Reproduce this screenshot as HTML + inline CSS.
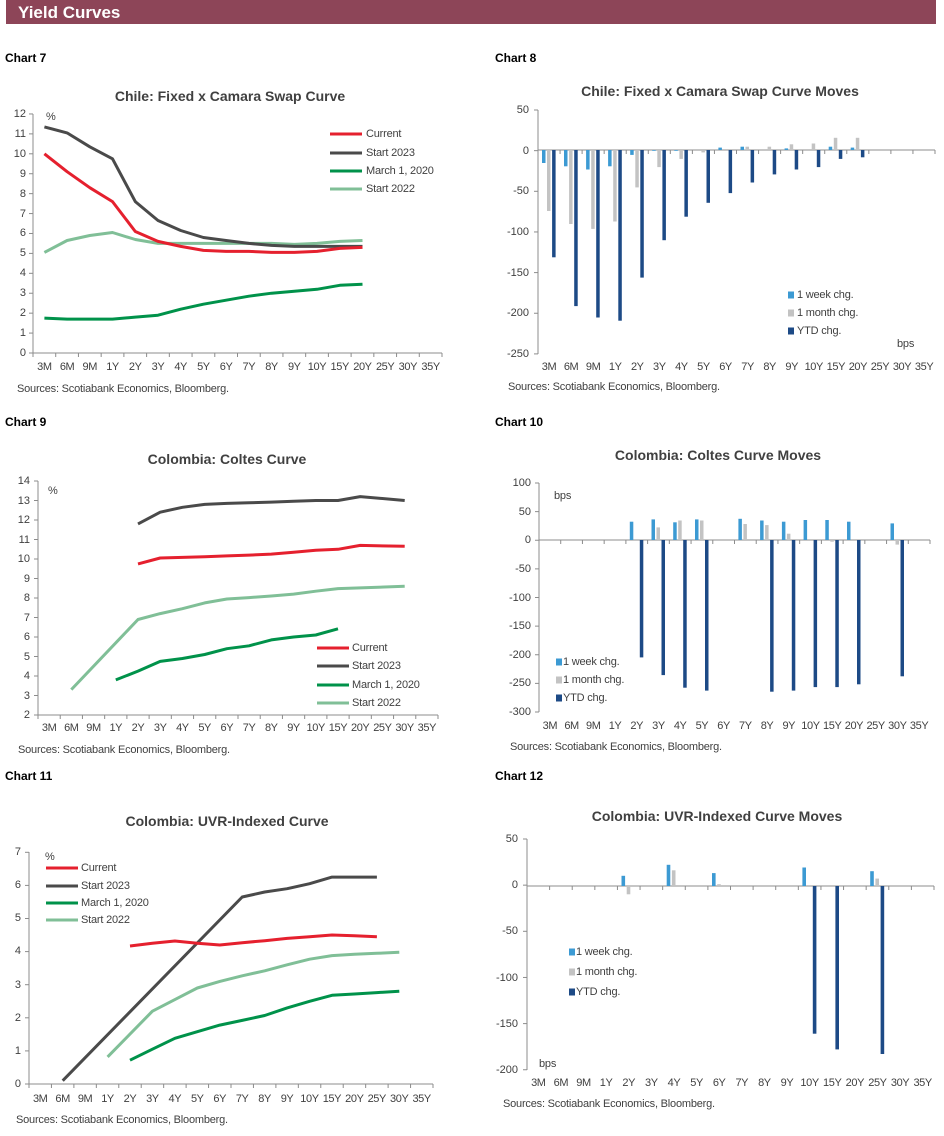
<!DOCTYPE html>
<html><head><meta charset="utf-8">
<style>
*{margin:0;padding:0;box-sizing:border-box}
body{width:944px;height:1136px;background:#fff;position:relative;overflow:hidden;font-family:"Liberation Sans",Arial,sans-serif;color:#404040}
.hdr{position:absolute;left:6px;top:0;width:930px;height:24px;background:#8d4558;color:#fff;font-weight:bold;font-size:17px;line-height:25px;padding-left:12px}
.cn{position:absolute;font-weight:bold;font-size:12px;color:#000}
.tt{position:absolute;font-weight:bold;font-size:14px;color:#404040;transform:translateX(-50%);white-space:nowrap;line-height:16px}
.src{position:absolute;font-size:11px;color:#404040;white-space:nowrap;line-height:13px;letter-spacing:-0.2px}
.xl{position:absolute;display:flex;height:14px;font-size:11px;line-height:14px;letter-spacing:-0.4px}
.xl span{flex:1;text-align:center;white-space:nowrap}
.yl{position:absolute;display:flex;flex-direction:column;justify-content:space-between;text-align:right;font-size:11px;line-height:14px}
.t{position:absolute;font-size:11px;line-height:14px;white-space:nowrap;letter-spacing:-0.2px}
svg{position:absolute;left:0;top:0}
</style></head><body>
<div class="hdr">Yield Curves</div>
<div class="cn" style="left:5px;top:51px">Chart 7</div>
<div class="cn" style="left:495px;top:51px">Chart 8</div>
<div class="cn" style="left:5px;top:415px">Chart 9</div>
<div class="cn" style="left:495px;top:415px">Chart 10</div>
<div class="cn" style="left:5px;top:769px">Chart 11</div>
<div class="cn" style="left:495px;top:769px">Chart 12</div>

<svg id="g" width="944" height="1136"></svg>

<div class="tt" style="left:230px;top:88px">Chile: Fixed x Camara Swap Curve</div>
<div class="tt" style="left:720px;top:83px">Chile: Fixed x Camara Swap Curve Moves</div>
<div class="tt" style="left:227px;top:451px">Colombia: Coltes Curve</div>
<div class="tt" style="left:718px;top:447px">Colombia: Coltes Curve Moves</div>
<div class="tt" style="left:227px;top:813px">Colombia: UVR-Indexed Curve</div>
<div class="tt" style="left:717px;top:808px">Colombia: UVR-Indexed Curve Moves</div>

<div class="src" style="left:17px;top:383px">Sources: Scotiabank Economics, Bloomberg.</div>
<div class="src" style="left:508px;top:381px">Sources: Scotiabank Economics, Bloomberg.</div>
<div class="src" style="left:18px;top:744px">Sources: Scotiabank Economics, Bloomberg.</div>
<div class="src" style="left:510px;top:741px">Sources: Scotiabank Economics, Bloomberg.</div>
<div class="src" style="left:16px;top:1114px">Sources: Scotiabank Economics, Bloomberg.</div>
<div class="src" style="left:503px;top:1098px">Sources: Scotiabank Economics, Bloomberg.</div>

<!-- y labels -->
<div class="yl" style="left:0;width:26px;top:107px;height:253px"><span>12</span><span>11</span><span>10</span><span>9</span><span>8</span><span>7</span><span>6</span><span>5</span><span>4</span><span>3</span><span>2</span><span>1</span><span>0</span></div>
<div class="yl" style="left:480px;width:49px;top:103px;height:258px"><span>50</span><span>0</span><span>-50</span><span>-100</span><span>-150</span><span>-200</span><span>-250</span></div>
<div class="yl" style="left:0;width:30px;top:474px;height:248px"><span>14</span><span>13</span><span>12</span><span>11</span><span>10</span><span>9</span><span>8</span><span>7</span><span>6</span><span>5</span><span>4</span><span>3</span><span>2</span></div>
<div class="yl" style="left:480px;width:51px;top:476px;height:243px"><span>100</span><span>50</span><span>0</span><span>-50</span><span>-100</span><span>-150</span><span>-200</span><span>-250</span><span>-300</span></div>
<div class="yl" style="left:0;width:21px;top:845px;height:246px"><span>7</span><span>6</span><span>5</span><span>4</span><span>3</span><span>2</span><span>1</span><span>0</span></div>
<div class="yl" style="left:470px;width:48px;top:832px;height:245px"><span>50</span><span>0</span><span>-50</span><span>-100</span><span>-150</span><span>-200</span></div>

<!-- x labels -->
<div class="xl" style="left:33px;width:409px;top:360px"><span>3M</span><span>6M</span><span>9M</span><span>1Y</span><span>2Y</span><span>3Y</span><span>4Y</span><span>5Y</span><span>6Y</span><span>7Y</span><span>8Y</span><span>9Y</span><span>10Y</span><span>15Y</span><span>20Y</span><span>25Y</span><span>30Y</span><span>35Y</span></div>
<div class="xl" style="left:538px;width:397px;top:360px"><span>3M</span><span>6M</span><span>9M</span><span>1Y</span><span>2Y</span><span>3Y</span><span>4Y</span><span>5Y</span><span>6Y</span><span>7Y</span><span>8Y</span><span>9Y</span><span>10Y</span><span>15Y</span><span>20Y</span><span>25Y</span><span>30Y</span><span>35Y</span></div>
<div class="xl" style="left:38px;width:400px;top:721px"><span>3M</span><span>6M</span><span>9M</span><span>1Y</span><span>2Y</span><span>3Y</span><span>4Y</span><span>5Y</span><span>6Y</span><span>7Y</span><span>8Y</span><span>9Y</span><span>10Y</span><span>15Y</span><span>20Y</span><span>25Y</span><span>30Y</span><span>35Y</span></div>
<div class="xl" style="left:539px;width:391px;top:719px"><span>3M</span><span>6M</span><span>9M</span><span>1Y</span><span>2Y</span><span>3Y</span><span>4Y</span><span>5Y</span><span>6Y</span><span>7Y</span><span>8Y</span><span>9Y</span><span>10Y</span><span>15Y</span><span>20Y</span><span>25Y</span><span>30Y</span><span>35Y</span></div>
<div class="xl" style="left:29px;width:404px;top:1092px"><span>3M</span><span>6M</span><span>9M</span><span>1Y</span><span>2Y</span><span>3Y</span><span>4Y</span><span>5Y</span><span>6Y</span><span>7Y</span><span>8Y</span><span>9Y</span><span>10Y</span><span>15Y</span><span>20Y</span><span>25Y</span><span>30Y</span><span>35Y</span></div>
<div class="xl" style="left:527px;width:407px;top:1076px"><span>3M</span><span>6M</span><span>9M</span><span>1Y</span><span>2Y</span><span>3Y</span><span>4Y</span><span>5Y</span><span>6Y</span><span>7Y</span><span>8Y</span><span>9Y</span><span>10Y</span><span>15Y</span><span>20Y</span><span>25Y</span><span>30Y</span><span>35Y</span></div>

<!-- legends & units -->
<div class="t" style="left:46px;top:110px">%</div>
<div class="t" style="left:366px;top:127px">Current</div>
<div class="t" style="left:366px;top:146px">Start 2023</div>
<div class="t" style="left:366px;top:164px">March 1, 2020</div>
<div class="t" style="left:366px;top:182px">Start 2022</div>

<div class="t" style="left:797px;top:288px">1 week chg.</div>
<div class="t" style="left:797px;top:306px">1 month chg.</div>
<div class="t" style="left:797px;top:324px">YTD chg.</div>
<div class="t" style="left:897px;top:337px">bps</div>

<div class="t" style="left:48px;top:484px">%</div>
<div class="t" style="left:352px;top:641px">Current</div>
<div class="t" style="left:352px;top:659px">Start 2023</div>
<div class="t" style="left:352px;top:678px">March 1, 2020</div>
<div class="t" style="left:352px;top:696px">Start 2022</div>

<div class="t" style="left:554px;top:489px">bps</div>
<div class="t" style="left:563px;top:655px">1 week chg.</div>
<div class="t" style="left:563px;top:673px">1 month chg.</div>
<div class="t" style="left:563px;top:691px">YTD chg.</div>

<div class="t" style="left:45px;top:850px">%</div>
<div class="t" style="left:81px;top:861px">Current</div>
<div class="t" style="left:81px;top:879px">Start 2023</div>
<div class="t" style="left:81px;top:896px">March 1, 2020</div>
<div class="t" style="left:81px;top:913px">Start 2022</div>

<div class="t" style="left:576px;top:945px">1 week chg.</div>
<div class="t" style="left:576px;top:965px">1 month chg.</div>
<div class="t" style="left:576px;top:985px">YTD chg.</div>
<div class="t" style="left:539px;top:1057px">bps</div>

<script>
const S=document.getElementById('g');
function el(t,a){const e=document.createElementNS('http://www.w3.org/2000/svg',t);for(const k in a)e.setAttribute(k,a[k]);S.appendChild(e);return e;}
const AX='#8c8c8c';
const RED='#e5202e',DK='#4a4a4a',GR='#00924a',LG='#80bf97';
const WK='#3c9ad3',MO='#c3c3c3',YT='#1d4a86';
function axes(x0,x1,yTop,yBot,ticks,xAxisY){
  el('line',{x1:x0,y1:yTop,x2:x0,y2:yBot,stroke:AX,'stroke-width':1});
  ticks.forEach(y=>el('line',{x1:x0-4,y1:y,x2:x0,y2:y,stroke:AX,'stroke-width':1}));
  el('line',{x1:x0,y1:xAxisY,x2:x1,y2:xAxisY,stroke:AX,'stroke-width':1});
  const w=(x1-x0)/18;
  for(let i=0;i<=18;i++){const x=x0+i*w;el('line',{x1:x,y1:xAxisY,x2:x,y2:xAxisY+4,stroke:AX,'stroke-width':1});}
}
function lineChart(x0,x1,fy,series){
  const w=(x1-x0)/18;
  series.forEach(([col,d])=>{
    const pts=[];d.forEach((v,i)=>{if(v!=null)pts.push((x0+w*(i+0.5)).toFixed(1)+','+fy(v).toFixed(1));});
    el('polyline',{points:pts.join(' '),fill:'none',stroke:col,'stroke-width':3,'stroke-linejoin':'round'});
  });
}
function bars(x0,x1,y0,sc,series){
  const w=(x1-x0)/18;const offs=[0.18,0.41,0.64];
  series.forEach(([col,d],k)=>{
    d.forEach((v,i)=>{if(v==null||v==0)return;const x=x0+w*i+w*offs[k];const h=Math.abs(v)*sc;
      el('rect',{x:x.toFixed(1),y:(v>0?y0-h:y0).toFixed(1),width:(w*0.16).toFixed(1),height:h.toFixed(1),fill:col});});
  });
}
function legLines(x,ys,cols){ys.forEach((y,i)=>el('line',{x1:x,y1:y,x2:x+32,y2:y,stroke:cols[i],'stroke-width':3}));}
function legBoxes(x,ys){[WK,MO,YT].forEach((c,i)=>el('rect',{x:x,y:ys[i]-3.5,width:6,height:7,fill:c}));}
const N=null;

// Chart 7
{const x0=33,x1=442,f=v=>353-v*19.92;
axes(x0,x1,114,353,[...Array(13).keys()].map(v=>f(v)),353);
lineChart(x0,x1,f,[
 [LG,[5.05,5.65,5.9,6.05,5.7,5.5,5.5,5.5,5.5,5.5,5.5,5.45,5.5,5.6,5.65]],
 [GR,[1.75,1.7,1.7,1.7,1.8,1.9,2.2,2.45,2.65,2.85,3.0,3.1,3.2,3.4,3.45]],
 [DK,[11.35,11.05,10.35,9.75,7.6,6.65,6.15,5.8,5.65,5.5,5.4,5.35,5.35,5.35,5.35]],
 [RED,[10,9.1,8.3,7.6,6.1,5.6,5.35,5.15,5.1,5.1,5.05,5.05,5.1,5.25,5.3]]]);
legLines(330,[134,153,171,189],[RED,DK,GR,LG]);}

// Chart 8
{const x0=538,x1=935,y0=150,sc=0.813;
axes(x0,x1,110,354,[0,1,2,3,4,5,6].map(i=>110+i*50*sc),y0);
bars(x0,x1,y0,sc,[
 [WK,[-16,-20,-24,-20,-6,-1,-1,0,3,4,0,2,0,4,3]],
 [MO,[-75,-91,-97,-88,-46,-21,-11,-3,0,4,4,7,8,15,15]],
 [YT,[-132,-192,-206,-210,-157,-111,-82,-65,-53,-40,-30,-24,-21,-11,-9]]]);
legBoxes(788,[295,313,331]);}

// Chart 9
{const x0=38,x1=438,f=v=>715-(v-2)*19.5;
axes(x0,x1,481,715,[...Array(13).keys()].map(v=>f(v+2)),715);
lineChart(x0,x1,f,[
 [LG,[N,3.3,N,N,6.9,7.2,7.45,7.75,7.95,8.02,8.1,8.2,8.35,8.48,8.52,N,8.6]],
 [GR,[N,N,N,3.8,4.25,4.75,4.9,5.1,5.4,5.55,5.85,6.0,6.1,6.42]],
 [DK,[N,N,N,N,11.8,12.4,12.65,12.8,12.85,12.88,12.92,12.96,13.0,13.0,13.2,N,13.0]],
 [RED,[N,N,N,N,9.75,10.05,10.08,10.12,10.16,10.2,10.25,10.35,10.45,10.5,10.7,N,10.65]]]);
legLines(317,[648,666,685,703],[RED,DK,GR,LG]);}

// Chart 10
{const x0=539,x1=930,y0=540,sc=0.5725;
axes(x0,x1,483,712,[...Array(9).keys()].map(i=>483+i*50*sc),y0);
bars(x0,x1,y0,sc,[
 [WK,[N,N,N,N,32,36,31,36,N,37,34,32,35,35,32,N,29]],
 [MO,[N,N,N,N,N,22,34,34,N,28,26,11,N,-3,N,N,-8]],
 [YT,[N,N,N,N,-205,-236,-258,-263,N,N,-265,-263,-257,-257,-252,N,-238]]]);
legBoxes(556,[662,680,698]);}

// Chart 11
{const x0=29,x1=433,f=v=>1084-v*33.1;
axes(x0,x1,852,1084,[...Array(8).keys()].map(v=>f(v)),1084);
lineChart(x0,x1,f,[
 [LG,[N,N,N,0.82,N,2.2,2.55,2.9,3.1,3.27,3.42,3.6,3.77,3.88,3.92,3.95,3.98]],
 [GR,[N,N,N,N,0.72,1.05,1.38,1.58,1.78,1.92,2.07,2.3,2.5,2.68,2.72,2.76,2.8]],
 [DK,[N,0.1,N,N,N,N,N,N,N,5.65,5.8,5.9,6.05,6.25,6.25,6.25]],
 [RED,[N,N,N,N,4.17,4.25,4.32,4.25,4.2,4.27,4.33,4.4,4.45,4.5,4.48,4.45]]]);
legLines(46,[868,886,903,920],[RED,DK,GR,LG]);}

// Chart 12
{const x0=527,x1=934,y0=886,sc=0.923;
axes(x0,x1,839,1070,[...Array(6).keys()].map(i=>839+i*50*sc),y0);
bars(x0,x1,y0,sc,[
 [WK,[N,N,N,N,11,N,23,N,14,N,N,N,20,N,N,16]],
 [MO,[N,N,N,N,-9,N,17,N,2,N,N,N,N,N,N,8]],
 [YT,[N,N,N,N,N,N,N,N,N,N,N,N,-160,-177,N,-182]]]);
legBoxes(569,[952,972,992]);}
</script>
</body></html>
